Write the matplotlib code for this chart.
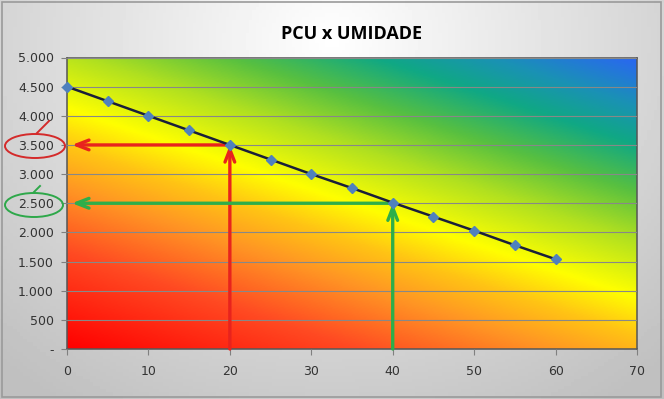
import matplotlib
matplotlib.use("Agg")
import matplotlib.pyplot as plt
import numpy as np
from matplotlib.colors import LinearSegmentedColormap
from matplotlib.patches import Ellipse, Rectangle
from matplotlib.ticker import FuncFormatter

# data
umidade = [0, 5, 10, 15, 20, 25, 30, 35, 40, 45, 50, 55, 60]
pcu = [4500, 4250, 4000, 3750, 3500, 3250, 3000, 2760, 2510, 2270, 2030, 1780, 1540]
x_ticks = [0, 10, 20, 30, 40, 50, 60, 70]
y_ticks = [0, 500, 1000, 1500, 2000, 2500, 3000, 3500, 4000, 4500, 5000]
red_pick = (20, 3500)
green_pick = (40, 2500)

W, H = 664, 399
fig = plt.figure(figsize=(W / 100, H / 100), dpi=100)


def px(x, y):
    return x / W, 1 - y / H


# grey chart-area background, lighter towards the top centre
bg = fig.add_axes([0, 0, 1, 1], zorder=-10)
gx, gy = np.meshgrid(np.linspace(0, 1, 200), np.linspace(0, 1, 120))
d = np.sqrt(((gx - 0.5) / 0.75) ** 2 + ((gy - 0.1) / 1.1) ** 2)
bg.imshow(1 - np.clip(d, 0, 1) * 0.25, cmap="gray", vmin=0, vmax=1,
          extent=[0, 1, 0, 1], origin="upper", aspect="auto")
bg.add_patch(Rectangle((0.003, 0.004), 0.993, 0.99, fill=False,
                       edgecolor="#9a9a9a", lw=1.2))
bg.set_axis_off()

ax = fig.add_axes([67 / W, 1 - 349 / H, 570 / W, 291.5 / H])

# diagonal colour gradient for the plot area
grad = LinearSegmentedColormap.from_list("pcu", [
    (0.00, "#ff0000"), (0.20, "#ff4a22"), (0.33, "#ff9424"),
    (0.42, "#ffc414"), (0.50, "#ffff00"), (0.62, "#b0e020"),
    (0.72, "#58c040"), (0.82, "#10a884"), (0.90, "#1a92b4"),
    (1.00, "#2a66f2")])
u, v = np.meshgrid(np.linspace(0, 1, 400), np.linspace(0, 1, 250))
t = (0.315 * 570 * u + 0.949 * 292 * v) / (0.315 * 570 + 0.949 * 292)
ax.imshow(t, cmap=grad, vmin=0, vmax=1, origin="lower",
          extent=[0, 70, 0, 5000], aspect="auto", zorder=0)

ax.set_xlim(0, 70)
ax.set_ylim(0, 5000)
ax.set_xticks(x_ticks)
ax.set_yticks(y_ticks)
ax.yaxis.set_major_formatter(FuncFormatter(
    lambda val, pos: "-" if val == 0 else f"{int(val):,}".replace(",", ".")))
ax.grid(axis="y", color="#888888", lw=0.8, zorder=1)
ax.set_axisbelow(False)
ax.tick_params(axis="y", length=4, pad=5.5, labelsize=9, colors="#808080",
               labelcolor="#333333")
ax.tick_params(axis="x", length=4, pad=7.5, labelsize=9, colors="#808080",
               labelcolor="#333333")
for s in ax.spines.values():
    s.set_color("#555555")
    s.set_linewidth(1.1)

# arrows
for (px_, py_), col in [(red_pick, "#e8231d"), (green_pick, "#2eae4a")]:
    ax.annotate("", xy=(px_, py_), xytext=(px_, 0),
                arrowprops=dict(arrowstyle="->,head_length=0.9,head_width=0.35",
                                color=col, lw=2.4, shrinkA=0, shrinkB=0),
                zorder=3, annotation_clip=False)
    ax.annotate("", xy=(0.6, py_), xytext=(px_, py_),
                arrowprops=dict(arrowstyle="->,head_length=0.9,head_width=0.35",
                                color=col, lw=2.4, shrinkA=0, shrinkB=0),
                zorder=3)

ax.plot(umidade, pcu, color="#1a1f3a", lw=1.8, zorder=4,
        marker="D", markersize=5, markerfacecolor="#4f81bd",
        markeredgecolor="#4f81bd", clip_on=False)

ax.set_title("PCU x UMIDADE", fontsize=13, fontweight="bold",
             family=["Open Sans", "DejaVu Sans"], pad=13)

# hand drawn circles around the read values
for (cx, cy, w, h, tail), col in [
        ((35, 146, 60, 24, [(37, 133), (49, 121)]), "#d42a2a"),
        ((34, 205, 58, 24, [(34, 192), (40, 186)]), "#2ea84a")]:
    c = px(cx, cy)
    fig.add_artist(Ellipse(c, w / W, h / H, fill=False, edgecolor=col,
                           lw=1.4, transform=fig.transFigure, clip_on=False))
    (x0, y0), (x1, y1) = tail
    fig.add_artist(plt.Line2D([x0 / W, x1 / W], [1 - y0 / H, 1 - y1 / H],
                              color=col, lw=1.4, transform=fig.transFigure))

fig.savefig("out.png", dpi=100)
